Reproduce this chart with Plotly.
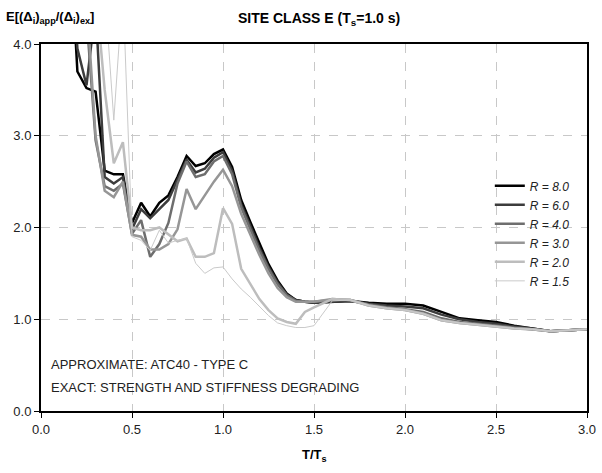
import plotly.graph_objects as go

# T/Ts sample points
t_ratio = [0.15, 0.2, 0.25, 0.3, 0.35, 0.4, 0.45, 0.5, 0.55, 0.6, 0.65, 0.7, 0.75, 0.8,
           0.85, 0.9, 0.95, 1.0, 1.05, 1.1, 1.15, 1.2, 1.25, 1.3, 1.35, 1.4, 1.45, 1.5,
           1.6, 1.7, 1.8, 1.9, 2.0, 2.1, 2.2, 2.3, 2.4, 2.5, 2.6, 2.7, 2.8, 2.9, 3.0]

r80 = [5.5, 3.70, 3.52, 3.48, 2.62, 2.58, 2.58, 2.05, 2.27, 2.12, 2.27, 2.35, 2.55, 2.78,
       2.67, 2.70, 2.80, 2.85, 2.66, 2.30, 2.06, 1.82, 1.60, 1.42, 1.28, 1.21, 1.19, 1.18,
       1.19, 1.20, 1.18, 1.17, 1.17, 1.15, 1.08, 1.01, 0.99, 0.97, 0.93, 0.90, 0.87, 0.88, 0.89]
r60 = [5.5, 3.95, 3.55, 4.4, 2.55, 2.48, 2.55, 1.98, 2.20, 2.10, 2.20, 2.30, 2.52, 2.74,
       2.60, 2.64, 2.76, 2.82, 2.62, 2.25, 2.02, 1.78, 1.57, 1.40, 1.27, 1.21, 1.19, 1.18,
       1.19, 1.20, 1.17, 1.15, 1.14, 1.12, 1.05, 1.00, 0.97, 0.95, 0.92, 0.90, 0.87, 0.88, 0.89]
r40 = [5.5, 4.6, 4.3, 2.95, 2.45, 2.40, 2.48, 1.93, 2.08, 1.68, 1.82, 2.05, 2.48, 2.72,
       2.55, 2.58, 2.72, 2.78, 2.58, 2.22, 1.98, 1.75, 1.55, 1.38, 1.26, 1.20, 1.19, 1.19,
       1.21, 1.21, 1.16, 1.13, 1.11, 1.08, 1.01, 0.97, 0.95, 0.93, 0.91, 0.89, 0.87, 0.88, 0.89]
r30 = [5.5, 5.0, 4.5, 3.0, 2.40, 2.33, 2.50, 1.92, 1.90, 1.76, 1.76, 1.82, 1.98, 2.42,
       2.20, 2.35, 2.50, 2.63, 2.45, 2.15, 1.92, 1.70, 1.50, 1.34, 1.24, 1.19, 1.19, 1.19,
       1.22, 1.21, 1.15, 1.12, 1.10, 1.06, 0.99, 0.96, 0.94, 0.92, 0.90, 0.89, 0.87, 0.88, 0.89]
r20 = [5.5, 5.5, 5.0, 4.6, 3.5, 2.70, 2.93, 2.00, 1.97, 1.97, 2.00, 1.92, 1.85, 1.88,
       1.68, 1.68, 1.72, 2.21, 2.04, 1.55, 1.38, 1.22, 1.10, 1.01, 0.97, 0.95, 1.08, 1.13,
       1.22, 1.21, 1.15, 1.12, 1.10, 1.06, 0.99, 0.96, 0.94, 0.92, 0.90, 0.89, 0.87, 0.88, 0.89]
r15 = [5.5, 5.5, 5.5, 5.5, 4.6, 3.17, 4.6, 1.90, 1.86, 1.75, 1.97, 1.83, 1.86, 1.88,
       1.61, 1.50, 1.56, 1.57, 1.44, 1.33, 1.24, 1.14, 1.04, 0.96, 0.93, 0.91, 0.91, 0.93,
       1.20, 1.21, 1.15, 1.12, 1.10, 1.06, 0.99, 0.96, 0.94, 0.92, 0.90, 0.89, 0.87, 0.88, 0.89]

series = [
    ('R = 8.0', r80, '#000000', 2.5),
    ('R = 6.0', r60, '#3c3c3c', 2.5),
    ('R = 4.0', r40, '#6e6e6e', 2.5),
    ('R = 3.0', r30, '#969696', 2.5),
    ('R = 2.0', r20, '#bdbdbd', 2.5),
    ('R = 1.5', r15, '#cacaca', 1),
]

fig = go.Figure()
for name, vals, col, w in series:
    fig.add_trace(go.Scatter(x=t_ratio, y=vals, mode='lines', name=name,
                             line=dict(color=col, width=w)))

axis_common = dict(showline=True, linecolor='black', linewidth=2, mirror=True,
                   ticks='outside', ticklen=5, tickcolor='black', automargin=False,
                   showgrid=True, gridcolor='#c8c8c8', griddash='dash', gridwidth=1,
                   zeroline=False, tickfont=dict(size=13, color='#222'))

fig.update_layout(
    width=602, height=473,
    margin=dict(l=41, r=15, t=44, b=62),
    paper_bgcolor='white', plot_bgcolor='white',
    font=dict(family='Liberation Sans, Arial, sans-serif', color='black'),
    xaxis=dict(range=[0, 3.0], dtick=0.5, tickformat='.1f', **axis_common),
    yaxis=dict(range=[0, 4.0], dtick=1.0, tickformat='.1f', **axis_common),
    legend=dict(x=0.822, y=0.653, xanchor='left', yanchor='top',
                bgcolor='rgba(0,0,0,0)', font=dict(size=12, style='italic', color='#222')),
    showlegend=True,
)

fig.add_annotation(text='<b>SITE CLASS E (T<sub>s</sub>=1.0 s)</b>', xref='paper', yref='paper',
                   x=0.51, y=1.0, yshift=25, yanchor='middle', showarrow=False, font=dict(size=14))
fig.add_annotation(text='<b>E[(Δ<sub>i</sub>)<sub>app</sub>/(Δ<sub>i</sub>)<sub>ex</sub>]</b>',
                   xref='paper', yref='paper', x=-0.068, y=1.0, yshift=27, yanchor='middle',
                   xanchor='left', showarrow=False, font=dict(size=13))
fig.add_annotation(text='<b>T/T<sub>s</sub></b>', xref='paper', yref='paper',
                   x=0.5, y=0, yshift=-44, yanchor='middle', showarrow=False, font=dict(size=13))
fig.add_annotation(text='APPROXIMATE: ATC40 - TYPE C', xref='paper', yref='paper',
                   x=0.015, y=0.101, xanchor='left', showarrow=False,
                   font=dict(size=13, color='#222'))
fig.add_annotation(text='EXACT: STRENGTH AND STIFFNESS DEGRADING', xref='paper', yref='paper',
                   x=0.015, y=0.038, xanchor='left', showarrow=False,
                   font=dict(size=13, color='#222'))

fig.write_html('out.html', config={'displayModeBar': False},
               post_script="document.body.style.margin='0';")
